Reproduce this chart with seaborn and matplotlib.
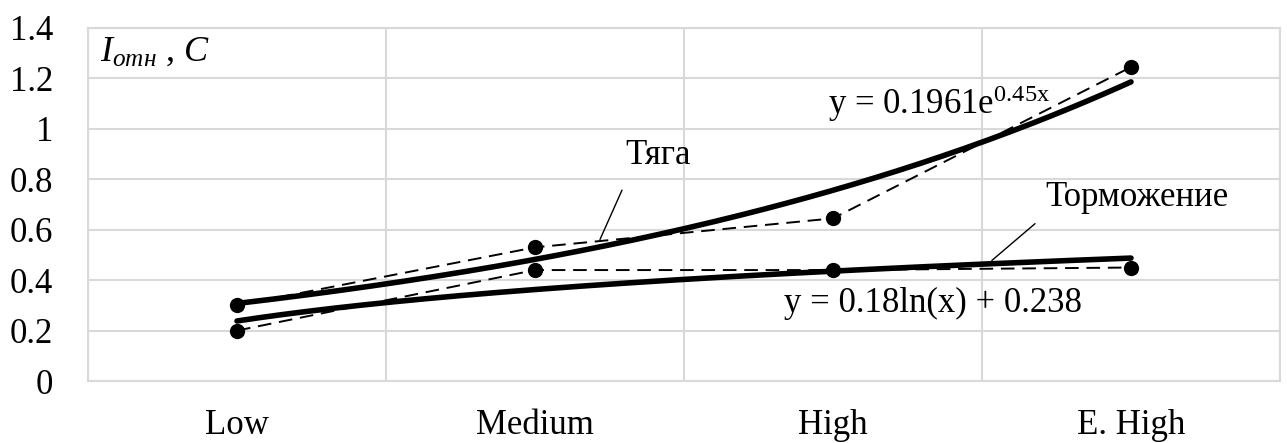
import numpy as np
import pandas as pd
import matplotlib
matplotlib.use("Agg")
import matplotlib.pyplot as plt
import seaborn as sns

categories = ["Low", "Medium", "High", "E. High"]
tyaga = [0.30, 0.53, 0.645, 1.245]
tormozhenie = [0.20, 0.44, 0.44, 0.45]
exp_a, exp_b = 0.1961, 0.45
log_a, log_b = 0.18, 0.238
yticks = [0, 0.2, 0.4, 0.6, 0.8, 1, 1.2, 1.4]
yticklabels = ["0", "0.2", "0.4", "0.6", "0.8", "1", "1.2", "1.4"]

sns.set_theme(style="white")
plt.rcParams['font.family'] = ['Liberation Serif', 'DejaVu Serif']
plt.rcParams['mathtext.fontset'] = 'custom'
plt.rcParams['mathtext.rm'] = 'Liberation Serif'
plt.rcParams['mathtext.it'] = 'Liberation Serif:italic'
plt.rcParams['text.color'] = 'black'
plt.rcParams['xtick.color'] = 'black'
plt.rcParams['ytick.color'] = 'black'

fig = plt.figure(figsize=(12.87, 4.43), dpi=100)
ax = fig.add_axes([88/1287, 1-381/443, (1280-88)/1287, (381-28)/443])

pos = np.arange(len(categories))
df = pd.DataFrame({"x": np.concatenate([pos, pos]),
                   "y": tyaga + tormozhenie,
                   "s": ["Тяга"] * 4 + ["Торможение"] * 4})

# trendlines
xt = np.linspace(1, 4, 200)
trend = pd.DataFrame({"x": np.concatenate([xt - 1, xt - 1]),
                      "y": np.concatenate([exp_a * np.exp(exp_b * xt), log_a * np.log(xt) + log_b]),
                      "s": ["exp"] * len(xt) + ["log"] * len(xt)})
sns.lineplot(data=trend, x="x", y="y", units="s", estimator=None, color="black",
             lw=4.0, ax=ax, zorder=3, legend=False)

for name in ["Тяга", "Торможение"]:
    sub = df[df.s == name]
    sns.lineplot(data=sub, x="x", y="y", color="black", lw=1.4, ax=ax,
                 marker="o", markersize=11, markeredgewidth=0,
                 dashes=False, legend=False, zorder=4)
for l in ax.lines[1:]:
    if l.get_linewidth() < 2:
        l.set_dashes([7, 4])

ax.set_xlim(-0.5, 3.5)
ax.set_ylim(0, 1.4)
ax.set_yticks(yticks)
ax.set_yticklabels(yticklabels, fontsize=25)
ax.set_xticks(pos)
ax.set_xticklabels(categories, fontsize=25)
ax.set_xticks(np.arange(-0.5, 3.6, 1), minor=True)
ax.tick_params(axis='y', length=0, pad=25)
ax.tick_params(axis='x', which='both', length=0, pad=20)
ax.grid(False)
ax.yaxis.grid(True, color="#d9d9d9", lw=1.5)
ax.xaxis.grid(True, which='minor', color="#d9d9d9", lw=1.5)
for sp in ax.spines.values():
    sp.set_color("#d9d9d9")
    sp.set_linewidth(1.5)
ax.set_xlabel("")
ax.set_ylabel("")

ax.text(-0.46, 1.305, "$I_{отн}$ , $C$", fontsize=26, va="center", ha="left")
ax.text(1.413, 0.894, "Тяга", fontsize=25, ha="center", va="center")
ax.plot([1.292, 1.218], [0.757, 0.561], color="black", lw=1.0)
ax.text(3.02, 0.729, "Торможение", fontsize=25, ha="center", va="center")
ax.plot([2.678, 2.533], [0.624, 0.478], color="black", lw=1.0)
ax.text(1.983, 1.10, "y = 0.1961e$^{0.45\\mathrm{x}}$", fontsize=25, ha="left", va="center")
ax.text(2.335, 0.306, "y = 0.18ln(x) + 0.238", fontsize=25, ha="center", va="center")

fig.savefig("out.png", dpi=100)
